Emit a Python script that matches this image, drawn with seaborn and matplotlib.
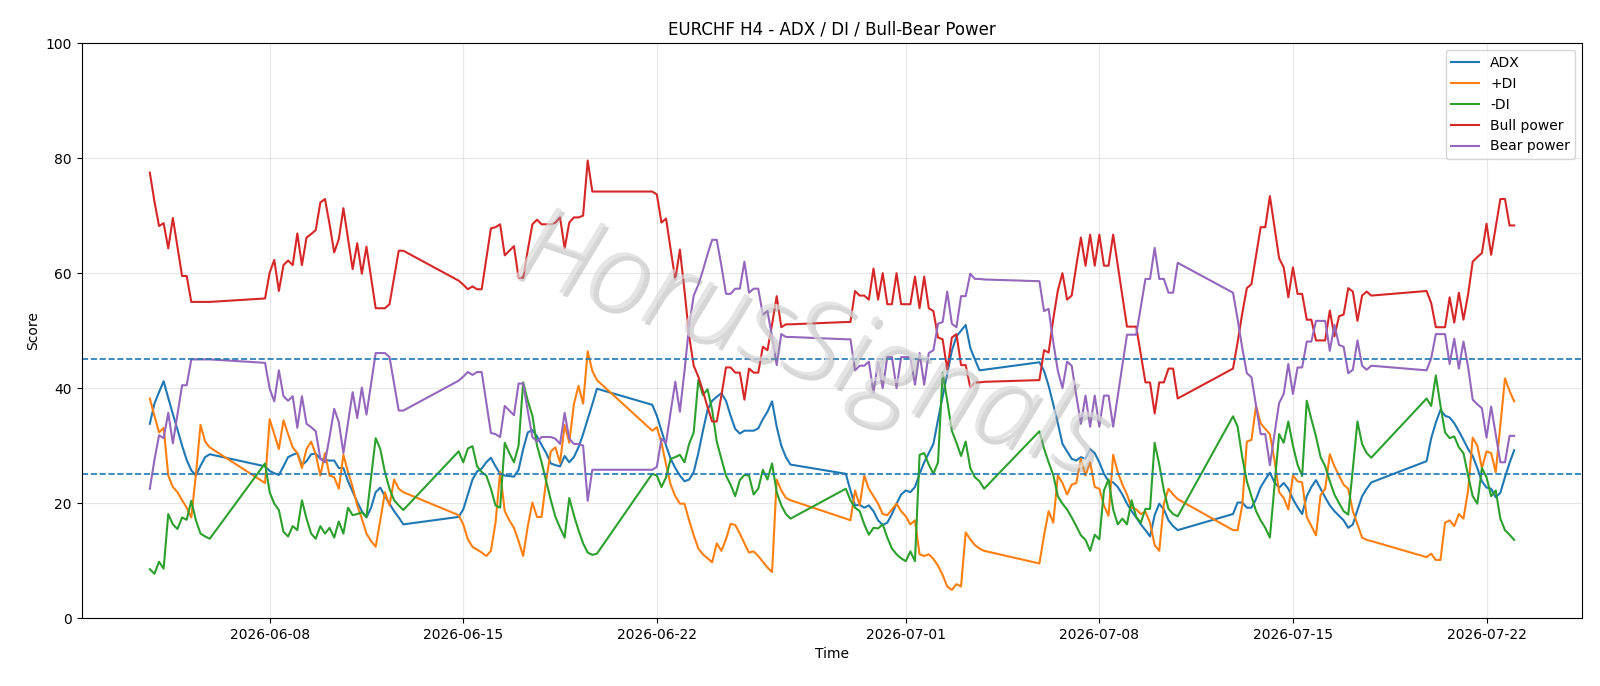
import matplotlib
matplotlib.use("Agg")
import matplotlib.pyplot as plt
import matplotlib.patheffects as pe
import numpy as np
import pandas as pd
import seaborn as sns

# H4 bars: the week opens Sunday 20:00 and the last bar is Friday 20:00
bars = pd.date_range("2026-06-03 16:00", "2026-07-23 00:00", freq="4h")
bars = bars[(bars.dayofweek < 5) | ((bars.dayofweek == 6) & (bars.hour == 20))]

# one line per trading week
adx = [
    33.8, 37.3, 39.3, 41.2, 38.3, 35.5, 32.8, 30.0, 27.5, 25.7, 24.8, 26.5, 28.0, 28.5,
    26.4, 25.6, 25.2, 24.9, 26.4, 28.0, 28.4, 28.7, 26.6, 27.3, 28.5, 28.6, 27.7, 27.5, 27.4, 27.4,
    26.1, 26.1, 23.8, 22.0, 20.2, 18.6, 17.5, 19.2, 21.9, 22.7, 21.2, 19.9, 18.6, 17.5, 16.3,
    17.6, 18.9, 21.5, 24.1, 25.5, 26.0, 27.1, 27.9, 26.4, 25.1, 24.8, 24.7, 24.6, 25.8, 29.4, 32.3,
    32.7, 31.6, 30.1, 28.7, 26.9, 26.6, 26.4, 28.2, 27.1, 28.0, 29.7, 32.0, 34.6, 37.2, 39.9,
    37.1, 35.2, 32.6, 30.0, 27.7, 26.1, 24.8, 23.8, 24.1, 25.4, 28.7, 32.6, 36.2, 37.8, 38.5, 39.1,
    37.8, 35.2, 32.9, 32.1, 32.6, 32.6, 32.6, 33.0, 34.6, 35.9, 37.7, 33.3, 30.0, 28.0, 26.7,
    25.1, 22.2, 19.6, 19.7, 19.2, 19.6, 18.6, 17.0, 16.2, 16.6, 18.1, 19.9, 21.5, 22.2, 21.9, 22.8,
    25.1, 27.1, 28.7, 30.3, 34.5, 38.5, 42.5, 46.5, 49.0, 50.0, 51.0, 47.0, 45.0, 43.1, 43.2,
    44.5, 43.0, 40.4, 37.2, 33.9, 30.3, 29.0, 27.7, 27.4, 28.0, 27.7, 29.4, 28.7, 27.1, 25.1, 23.8,
    23.6, 22.8, 21.5, 19.9, 18.6, 17.5, 16.3, 15.3, 14.2, 17.9, 19.9, 18.9, 17.0, 16.0, 15.3,
    18.1, 20.1, 20.1, 19.2, 19.2, 20.7, 22.8, 24.1, 25.3, 23.6, 22.7, 23.5, 22.5, 20.7, 19.3, 18.1,
    21.2, 22.8, 24.0, 22.5, 21.0, 19.6, 18.6, 17.8, 17.0, 15.7, 16.3, 18.8, 21.2, 22.5, 23.6,
    27.3, 31.3, 34.0, 36.2, 35.2, 34.9, 33.9, 32.5, 31.0, 29.4, 28.2, 26.1, 23.8, 22.7, 22.5, 21.0,
    21.8, 24.5, 27.0, 29.2,
]
plus_di = [
    38.2, 35.2, 32.3, 33.1, 24.8, 22.8, 21.9, 20.5, 19.2, 17.5, 25.0, 33.6, 30.7, 29.7,
    23.5, 34.6, 32.0, 29.4, 34.4, 32.0, 29.7, 28.7, 26.1, 29.4, 30.7, 28.5, 24.8, 28.7, 24.8, 24.5,
    22.5, 28.4, 25.4, 22.8, 19.6, 17.3, 14.7, 13.4, 12.4, 17.0, 21.9, 19.6, 24.1, 22.5, 21.9,
    17.9, 16.3, 13.7, 12.4, 11.9, 11.4, 10.8, 11.7, 16.6, 25.4, 18.6, 17.0, 15.7, 13.4, 10.8, 16.0,
    20.1, 17.6, 17.6, 24.0, 29.0, 29.7, 27.0, 33.6, 30.5, 37.2, 40.4, 37.3, 46.4, 43.0, 41.4,
    32.6, 33.2, 30.5, 26.7, 23.2, 21.2, 19.9, 19.9, 17.0, 14.4, 12.1, 11.1, 10.4, 9.7, 13.0, 11.7,
    13.7, 16.4, 16.2, 14.7, 13.0, 11.4, 11.6, 10.8, 9.8, 8.8, 8.0, 24.1, 22.2, 20.9, 20.5,
    17.3, 17.0, 22.2, 19.6, 24.8, 22.5, 21.2, 19.9, 18.1, 17.9, 18.9, 19.9, 18.6, 17.7, 16.3, 17.0,
    11.1, 10.8, 11.1, 10.3, 9.1, 7.5, 5.5, 4.9, 5.9, 5.5, 14.9, 13.7, 12.7, 12.1, 11.7,
    9.5, 14.4, 18.6, 16.6, 24.8, 23.5, 21.5, 23.2, 23.5, 27.7, 24.8, 27.1, 22.8, 22.5, 19.6, 17.8,
    28.4, 25.4, 23.2, 21.5, 19.2, 18.9, 18.1, 18.5, 16.6, 12.7, 11.7, 19.9, 22.5, 21.5, 20.7,
    15.3, 15.3, 19.6, 30.7, 31.0, 36.9, 33.9, 32.9, 32.0, 27.5, 21.9, 20.9, 18.9, 24.8, 23.8, 23.6,
    17.6, 16.0, 14.4, 21.4, 22.5, 28.5, 26.4, 24.8, 23.2, 22.5, 18.6, 16.3, 14.0, 13.6, 13.4,
    10.6, 11.2, 10.1, 10.1, 16.6, 17.0, 16.0, 18.1, 17.3, 22.2, 31.4, 30.0, 26.1, 29.0, 28.7, 25.4,
    33.5, 41.7, 39.5, 37.7,
]
minus_di = [
    8.5, 7.7, 9.8, 8.6, 18.1, 16.3, 15.5, 17.5, 17.1, 20.4, 17.0, 14.7, 14.2, 13.8,
    26.9, 21.9, 19.9, 18.8, 15.0, 14.2, 16.0, 15.3, 20.5, 17.3, 14.7, 13.8, 16.0, 14.7, 15.7, 14.0,
    16.8, 14.7, 19.2, 17.9, 18.1, 18.4, 17.6, 24.5, 31.3, 29.4, 25.4, 22.5, 20.5, 19.6, 18.8,
    29.0, 27.1, 29.5, 29.9, 26.4, 25.4, 24.8, 22.5, 19.6, 19.2, 30.5, 28.7, 27.1, 30.0, 41.0, 37.8,
    35.2, 30.0, 27.1, 23.8, 20.5, 17.6, 15.7, 14.0, 20.9, 17.9, 15.3, 13.0, 11.4, 11.0, 11.2,
    25.1, 24.8, 22.8, 24.5, 27.7, 28.0, 28.4, 27.1, 30.3, 32.3, 41.4, 38.8, 39.8, 36.2, 30.7, 27.7,
    24.8, 23.2, 21.2, 24.0, 24.9, 24.8, 21.5, 22.5, 25.8, 24.1, 26.9, 21.9, 19.6, 18.1, 17.3,
    22.5, 20.5, 19.2, 18.6, 16.3, 14.5, 15.7, 15.6, 16.3, 14.0, 12.1, 11.1, 10.4, 9.9, 11.6, 9.9,
    28.4, 28.7, 26.7, 25.1, 27.1, 42.7, 37.8, 32.6, 30.5, 28.2, 30.7, 26.1, 24.5, 23.8, 22.5,
    32.5, 29.5, 27.1, 24.9, 21.2, 19.9, 18.9, 17.5, 16.0, 14.4, 13.6, 11.7, 14.5, 13.7, 22.2, 24.1,
    18.9, 16.3, 17.3, 16.3, 20.5, 17.6, 16.6, 19.0, 19.0, 30.5, 26.7, 22.2, 19.0, 18.1, 17.7,
    35.1, 33.3, 28.0, 23.8, 21.2, 18.6, 17.0, 15.7, 14.0, 23.0, 32.0, 30.5, 34.2, 30.0, 26.7, 24.7,
    37.8, 34.6, 31.6, 28.0, 26.4, 23.8, 21.5, 20.0, 18.6, 18.0, 26.0, 34.2, 30.3, 28.7, 27.9,
    38.2, 36.9, 42.2, 37.0, 32.3, 31.3, 31.6, 29.7, 28.7, 24.8, 21.2, 19.9, 26.1, 24.5, 21.2, 22.2,
    17.3, 15.3, 14.5, 13.6,
]
bull_power = [
    77.5, 72.5, 68.2, 68.7, 64.3, 69.6, 64.5, 59.5, 59.5, 55.0, 55.0, 55.0, 55.0, 55.0,
    55.6, 60.1, 62.3, 56.9, 61.4, 62.2, 61.4, 66.9, 61.4, 66.2, 66.8, 67.5, 72.3, 72.9, 68.5, 63.6,
    65.9, 71.3, 66.0, 60.7, 65.2, 59.9, 64.6, 59.2, 53.9, 53.9, 53.9, 54.6, 59.2, 63.9, 63.9,
    58.7, 58.0, 57.2, 57.7, 57.2, 57.2, 62.5, 67.8, 68.0, 68.5, 63.1, 63.9, 64.7, 59.2, 59.2, 64.0,
    68.5, 69.3, 68.5, 68.5, 68.5, 68.8, 69.7, 64.3, 68.8, 69.7, 69.7, 70.0, 79.6, 74.2, 74.2,
    74.2, 73.7, 68.8, 69.5, 64.1, 58.9, 64.1, 57.0, 49.1, 43.9, 42.0, 39.5, 36.7, 34.2, 34.2, 38.7,
    43.6, 43.6, 42.7, 42.7, 38.0, 43.4, 42.7, 42.7, 47.2, 46.6, 51.1, 56.0, 50.6, 51.1, 51.1,
    51.5, 51.5, 56.9, 56.1, 56.1, 55.4, 60.8, 55.4, 60.0, 54.6, 54.6, 60.0, 54.6, 54.6, 54.6, 59.4,
    53.9, 59.4, 53.9, 53.4, 48.8, 48.5, 43.2, 48.8, 49.4, 44.0, 44.0, 40.1, 41.0, 41.0, 41.1,
    41.4, 46.6, 46.2, 52.0, 57.0, 60.0, 55.4, 56.1, 61.3, 66.2, 61.3, 66.7, 61.3, 66.7, 61.3, 61.3,
    66.7, 61.3, 56.0, 50.7, 50.7, 50.7, 45.8, 41.0, 41.0, 35.6, 41.0, 41.0, 43.4, 43.4, 38.2,
    43.4, 48.0, 53.0, 57.4, 58.1, 63.0, 68.0, 68.0, 73.4, 68.0, 62.6, 61.0, 55.8, 61.0, 56.4, 56.4,
    51.9, 51.9, 48.3, 48.3, 48.3, 53.5, 49.0, 52.5, 52.8, 57.4, 56.8, 51.7, 56.1, 56.8, 56.1,
    56.9, 54.8, 50.6, 50.6, 50.6, 55.8, 51.4, 56.6, 51.9, 56.3, 62.0, 62.8, 63.5, 68.6, 63.2, 68.0,
    72.9, 72.9, 68.3, 68.3,
]
bear_power = [
    22.5, 27.5, 31.8, 31.3, 35.7, 30.4, 35.5, 40.5, 40.5, 45.0, 45.0, 45.0, 45.0, 45.0,
    44.4, 39.9, 37.7, 43.1, 38.6, 37.8, 38.6, 33.1, 38.6, 33.8, 33.2, 32.5, 27.7, 27.1, 31.5, 36.4,
    34.1, 28.7, 34.0, 39.3, 34.8, 40.1, 35.4, 40.8, 46.1, 46.1, 46.1, 45.4, 40.8, 36.1, 36.1,
    41.3, 42.0, 42.8, 42.3, 42.8, 42.8, 37.5, 32.2, 32.0, 31.5, 36.9, 36.1, 35.3, 40.8, 40.8, 36.0,
    31.5, 30.7, 31.5, 31.5, 31.5, 31.2, 30.3, 35.7, 31.2, 30.3, 30.3, 30.0, 20.4, 25.8, 25.8,
    25.8, 26.3, 31.2, 30.5, 35.9, 41.1, 35.9, 43.0, 50.9, 56.1, 58.0, 60.5, 63.3, 65.8, 65.8, 61.3,
    56.4, 56.4, 57.3, 57.3, 62.0, 56.6, 57.3, 57.3, 52.8, 53.4, 48.9, 44.0, 49.4, 48.9, 48.9,
    48.5, 48.5, 43.1, 43.9, 43.9, 44.6, 39.2, 44.6, 40.0, 45.4, 45.4, 40.0, 45.4, 45.4, 45.4, 40.6,
    46.1, 40.6, 46.1, 46.6, 51.2, 51.5, 56.8, 51.2, 50.6, 56.0, 56.0, 59.9, 59.0, 59.0, 58.9,
    58.6, 53.4, 53.8, 48.0, 43.0, 40.0, 44.6, 43.9, 38.7, 33.8, 38.7, 33.3, 38.7, 33.3, 38.7, 38.7,
    33.3, 38.7, 44.0, 49.3, 49.3, 49.3, 54.2, 59.0, 59.0, 64.4, 59.0, 59.0, 56.6, 56.6, 61.8,
    56.6, 52.0, 47.0, 42.6, 41.9, 37.0, 32.0, 32.0, 26.6, 32.0, 37.4, 39.0, 44.2, 39.0, 43.6, 43.6,
    48.1, 48.1, 51.7, 51.7, 51.7, 46.5, 51.0, 47.5, 47.2, 42.6, 43.2, 48.3, 43.9, 43.2, 43.9,
    43.1, 45.2, 49.4, 49.4, 49.4, 44.2, 48.6, 43.4, 48.1, 43.7, 38.0, 37.2, 36.5, 31.4, 36.8, 32.0,
    27.1, 27.1, 31.7, 31.7,
]

series = [
    ("ADX", adx, "#1f77b4"),
    ("+DI", plus_di, "#ff7f0e"),
    ("-DI", minus_di, "#2ca02c"),
    ("Bull power", bull_power, "#d62728"),
    ("Bear power", bear_power, "#9467bd"),
]

fig, ax = plt.subplots(figsize=(16, 6.86), dpi=100)

for name, vals, col in series:
    assert len(vals) == len(bars), (name, len(vals), len(bars))
    sns.lineplot(x=bars, y=np.array(vals), ax=ax, label=name, color=col, linewidth=1.5)

ax.axhline(25, linestyle="--", color="#1f77b4", linewidth=1.2)
ax.axhline(45, linestyle="--", color="#1f77b4", linewidth=1.2)

ax.set_ylim(0, 100)
ax.set_title("EURCHF H4 - ADX / DI / Bull-Bear Power")
ax.set_xlabel("Time")
ax.set_ylabel("Score")
ax.grid(True, alpha=0.3)
ax.legend(loc="upper right")

# watermark: thin light letters with a soft grey shadow, drawn over the lines
ax.text(0.485, 0.47, "HorusSignals", transform=ax.transAxes, fontsize=80,
        family=["Open Sans", "DejaVu Sans"], weight="light", style="italic",
        color="#dadada", alpha=0.7, rotation=-19,
        ha="center", va="center", zorder=5,
        path_effects=[pe.withSimplePatchShadow(offset=(2.5, -2.5), shadow_rgbFace="#9a9a9a", alpha=0.4)])

fig.subplots_adjust(left=0.051, right=0.989, top=0.937, bottom=0.099)
fig.savefig("out.png", dpi=100)
